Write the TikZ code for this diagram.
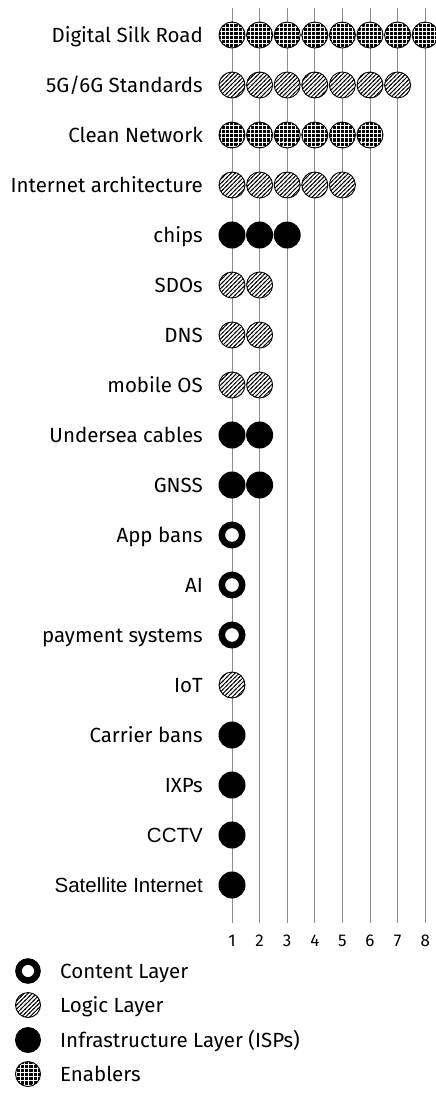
\documentclass[tikz,border=0pt]{standalone}
\usepackage{fontspec}
\setmainfont{Fira Sans}
\newfontfamily\arialfont{Liberation Sans}
\usetikzlibrary{patterns}

% fine diagonal hatching for the logic layer
\pgfdeclarepatternformonly{hatchfine}{\pgfqpoint{-1pt}{-1pt}}{\pgfqpoint{5.2pt}{5.2pt}}{\pgfqpoint{4.2pt}{4.2pt}}{%
  \pgfsetlinewidth{0.85pt}%
  \pgfpathmoveto{\pgfqpoint{-1pt}{-1pt}}%
  \pgfpathlineto{\pgfqpoint{5.2pt}{5.2pt}}%
  \pgfusepath{stroke}}

% white grid over black for the enablers
\pgfdeclarepatternformonly{dotgrid}{\pgfqpoint{-1pt}{-1pt}}{\pgfqpoint{5.1pt}{5.1pt}}{\pgfqpoint{4.1pt}{4.1pt}}{%
  \pgfsetlinewidth{0.55pt}%
  \pgfpathmoveto{\pgfqpoint{-1pt}{0pt}}\pgfpathlineto{\pgfqpoint{5.1pt}{0pt}}%
  \pgfpathmoveto{\pgfqpoint{0pt}{-1pt}}\pgfpathlineto{\pgfqpoint{0pt}{5.1pt}}%
  \pgfusepath{stroke}%
  \pgfpathcircle{\pgfqpoint{0pt}{0pt}}{0.7pt}\pgfusepath{fill}}

\tikzset{
  content/.style={circle, draw=black, line width=6.5pt, fill=white, minimum size=20.4pt, inner sep=0pt},
  logic/.style={circle, draw=black, line width=0.9pt, preaction={fill=white}, pattern=hatchfine, minimum size=26pt, inner sep=0pt},
  infra/.style={circle, fill=black, minimum size=27pt, inner sep=0pt},
  enabler/.style={circle, draw=black, line width=0.9pt, preaction={fill=black}, pattern=dotgrid, pattern color=white, minimum size=26pt, inner sep=0pt},
  lbl/.style={anchor=base east, inner sep=0pt, font=\fontsize{20.5}{24}\selectfont},
  arial/.style={font=\arialfont\fontsize{20.5}{24}\selectfont},
  plain/.style={},
  axisnum/.style={anchor=base, inner sep=0pt, font=\fontsize{17}{20}\selectfont},
  legtext/.style={anchor=base west, inner sep=0pt, font=\fontsize{20.5}{24}\selectfont},
  gridline/.style={draw=black!45, line width=1pt}
}

% one row: index, label, circle style, number of circles, label style
\newcommand\chartrow[5]{%
  \node[lbl,#5] (l#1) at (203,{35+(#1-1)*50+7.1}) {#2};
  \foreach \k in {1,...,#4}{%
    \node[#3] (c#1-\k) at ({232+(\k-1)*27.6},{35+(#1-1)*50}) {};
  }%
}

\begin{document}
\begin{tikzpicture}[x=1pt,y=-1pt]
\useasboundingbox (0,0) rectangle (436,1093);

% vertical column lines with their numbers
\foreach \k in {1,...,8}{%
  \coordinate (top\k) at ({232+(\k-1)*27.6},8);
  \coordinate (bot\k) at ({232+(\k-1)*27.6},923);
  \draw[gridline] (top\k) -- (bot\k);
  \node[axisnum] (n\k) at ({232+(\k-1)*27.6},946) {\k};
}

\chartrow{1}{Digital Silk Road}{enabler}{8}{plain}
\chartrow{2}{5G/6G Standards}{logic}{7}{plain}
\chartrow{3}{Clean Network}{enabler}{6}{plain}
\chartrow{4}{Internet architecture}{logic}{5}{plain}
\chartrow{5}{chips}{infra}{3}{plain}
\chartrow{6}{SDOs}{logic}{2}{plain}
\chartrow{7}{DNS}{logic}{2}{plain}
\chartrow{8}{mobile OS}{logic}{2}{plain}
\chartrow{9}{Undersea cables}{infra}{2}{plain}
\chartrow{10}{GNSS}{infra}{2}{plain}
\chartrow{11}{App bans}{content}{1}{plain}
\chartrow{12}{AI}{content}{1}{plain}
\chartrow{13}{payment systems}{content}{1}{plain}
\chartrow{14}{IoT}{logic}{1}{plain}
\chartrow{15}{Carrier bans}{infra}{1}{plain}
\chartrow{16}{IXPs}{infra}{1}{plain}
\chartrow{17}{CCTV}{infra}{1}{arial}
\chartrow{18}{Satellite Internet}{infra}{1}{arial}

% legend
\node[content, minimum size=19pt] (k1) at (28,971) {};
\node[legtext] (t1) at (60,978) {Content Layer};
\node[logic, minimum size=25pt] (k2) at (28,1005) {};
\node[legtext] (t2) at (60,1012) {Logic Layer};
\node[infra, minimum size=26pt] (k3) at (28,1040) {};
\node[legtext] (t3) at (60,1047) {Infrastructure Layer (ISPs)};
\node[enabler, minimum size=25pt] (k4) at (28,1074) {};
\node[legtext] (t4) at (60,1081) {Enablers};
\end{tikzpicture}
\end{document}
